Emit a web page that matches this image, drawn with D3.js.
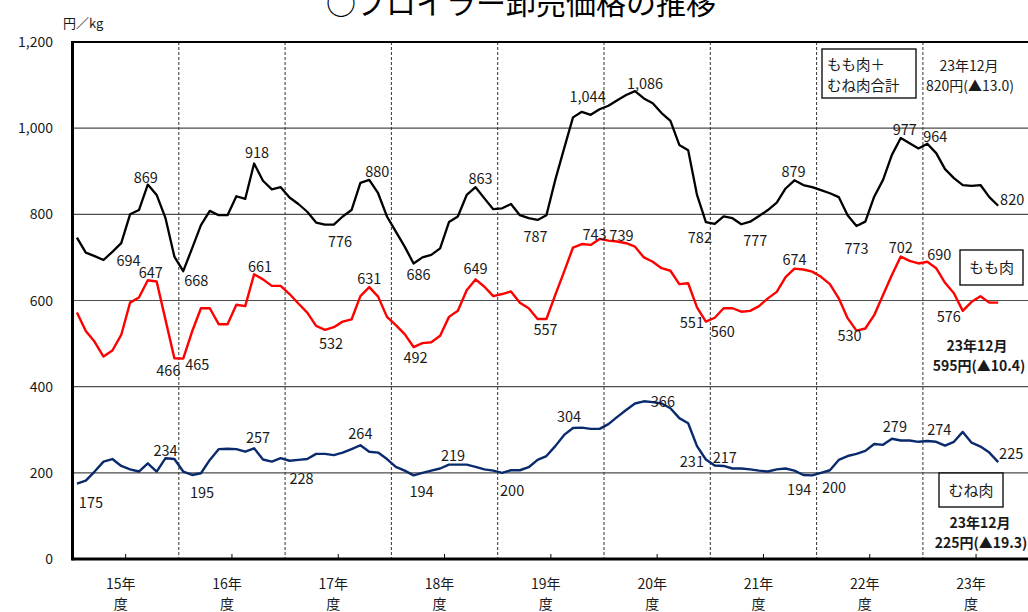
<!DOCTYPE html>
<html><head><meta charset="utf-8">
<script src="https://cdn.jsdelivr.net/npm/d3@7"></script>
<style>
html,body{margin:0;padding:0;background:#fff;}
svg text{font-family:"Noto Sans CJK JP","Noto Sans",sans-serif;fill:#1a1a1a;}
</style></head>
<body>
<svg id="c" width="1028" height="612"></svg>
<script>
// ---- data (fiscal years 15〜23, April..March, last = 23年12月) ----
const years = ["15年","16年","17年","18年","19年","20年","21年","22年","23年"];
const yTicks = [0,200,400,600,800,1000,1200];
const total = [746,711,703,694,713,733,800,810,869,845,791,702,
 668,721,775,808,798,798,842,836,918,878,858,863,
 839,824,806,781,776,776,795,810,873,880,849,795,
 760,725,686,700,706,721,782,795,845,863,837,812,
 814,824,798,791,787,798,880,953,1025,1038,1031,1044,
 1052,1065,1077,1086,1069,1058,1035,1017,961,949,845,782,
 778,795,791,777,783,796,810,827,860,879,868,863,
 856,849,840,798,773,783,841,880,938,977,965,953,
 964,942,905,884,868,866,868,840,820];
const momo = [572,529,504,470,484,520,595,607,647,644,555,466,
 465,528,582,582,545,545,590,587,661,649,634,634,
 615,593,572,541,532,538,551,556,610,631,609,562,
 543,522,492,501,503,518,562,576,624,649,632,610,
 615,621,595,582,557,557,613,667,723,731,729,743,
 739,737,733,725,700,690,675,669,638,640,584,551,
 560,582,582,574,576,587,605,620,654,674,672,667,
 655,638,605,559,530,535,566,613,659,702,692,686,
 690,675,641,617,576,597,610,595,595];
const mune = [175,182,203,226,232,216,208,203,222,203,234,232,
 203,195,199,230,255,256,255,249,257,231,226,234,
 228,230,232,244,244,241,247,255,264,249,247,232,
 214,205,194,200,205,210,219,219,219,214,208,205,
 200,206,206,213,230,239,262,288,304,305,302,302,
 313,330,346,361,366,364,361,350,327,315,262,231,
 217,216,210,210,208,205,203,208,210,205,195,194,
 200,206,230,239,244,251,267,265,279,275,275,272,
 274,272,263,272,295,270,261,247,225];
// data labels: [month index, dx, dy]
const totalLabels = [[3,25,6],[8,-2,-2],[12,13,15],[20,3,-5],[28,15,22],[33,8,-3],[38,5,17],[45,5,-3],[52,-2,22],[59,-12,-7],[63,10,-2],[71,-6,21],[75,14,22],[81,-1,-3],[88,0,28],[93,4,-3],[96,8,-2],[104,14,-1]];
const momoLabels = [[8,3,-2],[11,-6,18],[12,14,11],[20,6,-2],[28,6,19],[33,0,-3],[38,2,16],[45,0,-5],[52,8,16],[59,-5,1],[60,13,0],[71,-14,6],[72,8,19],[81,0,-4],[88,-7,10],[93,0,-4],[96,12,-2],[100,-14,11]];
const muneLabels = [[0,14,24],[10,0,-2],[13,10,23],[20,4,-5],[24,12,23],[32,0,-6],[38,8,22],[42,4,-4],[48,10,23],[56,-4,-6],[64,19,6],[71,-14,8],[72,10,-3],[83,-13,20],[84,13,20],[92,3,-7],[96,12,-6],[104,13,-3]];

const svg = d3.select("#c");
const L = 72.5, T = 42, B = 559, R = 1029.2;
const x = d3.scaleLinear().domain([0, years.length*12]).range([L, R]);
const y = d3.scaleLinear().domain([0, 1200]).range([B, T]);
const px = i => x(i + 0.5);

// title
svg.append("text").attr("x", 326).attr("y", 14).style("font-size","30px").style("fill","#000").text("○ブロイラー卸売価格の推移");
// unit
svg.append("text").attr("x", 63).attr("y", 28).style("font-size","13px").text("円／kg");

// gridlines
svg.append("g").selectAll("line").data(yTicks.filter(d=>d>0 && d<1200)).join("line")
  .attr("x1", L).attr("x2", R).attr("y1", d=>y(d)).attr("y2", d=>y(d))
  .attr("stroke","#4d4d4d").attr("stroke-width",1.2);
// year separators
svg.append("g").selectAll("line").data(d3.range(1, years.length)).join("line")
  .attr("x1", d=>x(d*12)).attr("x2", d=>x(d*12)).attr("y1", T).attr("y2", B)
  .attr("stroke","#333").attr("stroke-width",1).attr("stroke-dasharray","3,2");
// x ticks at year middles
svg.append("g").selectAll("line").data(d3.range(years.length)).join("line")
  .attr("x1", d=>x(d*12+6)).attr("x2", d=>x(d*12+6)).attr("y1", B).attr("y2", B-5)
  .attr("stroke","#000").attr("stroke-width",1);
// frame
svg.append("line").attr("x1",L).attr("x2",R).attr("y1",T).attr("y2",T).attr("stroke","#000").attr("stroke-width",2.2);
svg.append("line").attr("x1",L).attr("x2",R).attr("y1",B).attr("y2",B).attr("stroke","#000").attr("stroke-width",3);
svg.append("line").attr("x1",L).attr("x2",L).attr("y1",T-1).attr("y2",B+1.5).attr("stroke","#000").attr("stroke-width",3);

// y tick labels
svg.append("g").selectAll("text").data(yTicks).join("text")
  .attr("x", 53).attr("y", d=>y(d)+5).attr("text-anchor","end").style("font-size","14px")
  .text(d=>d3.format(",")(d));
// x labels
const xl = svg.append("g").selectAll("g").data(years).join("g");
xl.append("text").attr("x",(d,i)=>x(i*12+6)-5).attr("y",589).attr("text-anchor","middle").style("font-size","14px").text(d=>d);
xl.append("text").attr("x",(d,i)=>x(i*12+6)-5).attr("y",609).attr("text-anchor","middle").style("font-size","14px").text("度");

// lines
const line = d3.line().x((d,i)=>px(i)).y(d=>y(d));
const series = [[total,"#000",2.3,totalLabels],[momo,"#ff0000",2.4,momoLabels],[mune,"#0a2a6e",2.4,muneLabels]];
series.forEach(([vals,col,w,labs])=>{
  svg.append("path").datum(vals).attr("d",line).attr("fill","none").attr("stroke",col)
    .attr("stroke-width",w).attr("stroke-linejoin","round");
  svg.append("g").selectAll("text").data(labs).join("text")
    .attr("x", d=>px(d[0])+d[1]).attr("y", d=>y(vals[d[0]])+d[2])
    .attr("text-anchor","middle").style("font-size","14.5px")
    .text(d=>d3.format(",")(vals[d[0]]));
});

// legend boxes & notes
function box(x0,y0,w,h){svg.append("rect").attr("x",x0).attr("y",y0).attr("width",w).attr("height",h).attr("fill","#fff").attr("stroke","#000").attr("stroke-width",1.3);}
box(822,49,94,49);
svg.append("text").attr("x",827).attr("y",70).style("font-size","14.5px").text("もも肉＋");
svg.append("text").attr("x",827).attr("y",91).style("font-size","14.5px").text("むね肉合計");
svg.append("text").attr("x",969).attr("y",71).attr("text-anchor","middle").style("font-size","14px").text("23年12月");
svg.append("text").attr("x",970).attr("y",91).attr("text-anchor","middle").style("font-size","14px").text("820円(▲13.0)");

box(960,250,63,35);
svg.append("text").attr("x",991.5).attr("y",273).attr("text-anchor","middle").style("font-size","15px").text("もも肉");
svg.append("text").attr("x",977).attr("y",351).attr("text-anchor","middle").style("font-size","14px").style("font-weight","bold").text("23年12月");
svg.append("text").attr("x",979).attr("y",371).attr("text-anchor","middle").style("font-size","14px").style("font-weight","bold").text("595円(▲10.4)");

box(939,473,64,34);
svg.append("text").attr("x",971).attr("y",496).attr("text-anchor","middle").style("font-size","15px").text("むね肉");
svg.append("text").attr("x",980).attr("y",528).attr("text-anchor","middle").style("font-size","14px").style("font-weight","bold").text("23年12月");
svg.append("text").attr("x",981).attr("y",548).attr("text-anchor","middle").style("font-size","14px").style("font-weight","bold").text("225円(▲19.3)");
</script>
</body></html>
